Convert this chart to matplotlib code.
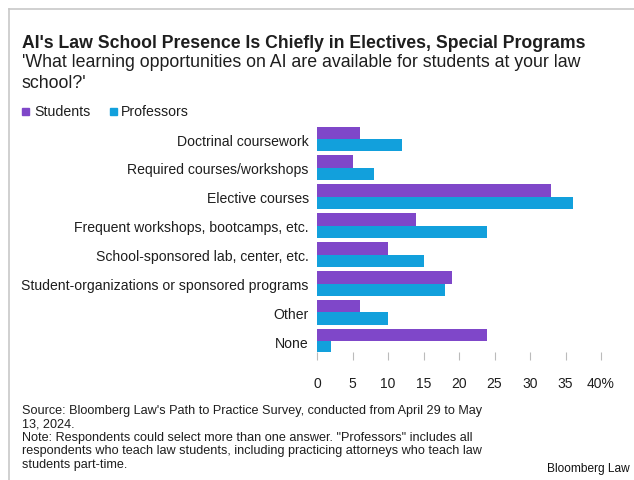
import matplotlib
matplotlib.use("Agg")
import matplotlib.pyplot as plt
from matplotlib.lines import Line2D
from matplotlib.patches import Rectangle
import numpy as np

plt.rcParams['font.family'] = ['Liberation Sans', 'DejaVu Sans']

categories = [
    "Doctrinal coursework",
    "Required courses/workshops",
    "Elective courses",
    "Frequent workshops, bootcamps, etc.",
    "School-sponsored lab, center, etc.",
    "Student-organizations or sponsored programs",
    "Other",
    "None",
]
students = [6, 5, 33, 14, 10, 19, 6, 24]
professors = [12, 8, 36, 24, 15, 18, 10, 2]
series_names = ["Students", "Professors"]
tick_values = [0, 5, 10, 15, 20, 25, 30, 35, 40]
tick_labels = ["0", "5", "10", "15", "20", "25", "30", "35", "40%"]

PURPLE = "#7f47c9"
BLUE = "#12a0dc"
TEXT = "#1e1e1e"

W, H = 634, 481
fig = plt.figure(figsize=(W / 100, H / 100), dpi=100)
fig.patch.set_facecolor("white")

def fx(px):
    return px / W

def fy(py):
    return 1 - py / H

# frame lines along the top and left edges
fig.add_artist(Line2D([fx(9), 1], [fy(10), fy(10)], color="#c8c8c8", lw=1.2))
fig.add_artist(Line2D([fx(9), fx(9)], [fy(10), 0], color="#c8c8c8", lw=1.2))

# title block
fig.text(fx(22), fy(48), "AI's Law School Presence Is Chiefly in Electives, Special Programs",
         fontsize=12.7, fontweight="bold", color=TEXT, va="baseline", ha="left")
fig.text(fx(22), fy(67), "'What learning opportunities on AI are available for students at your law",
         fontsize=12.8, color=TEXT, va="baseline", ha="left")
fig.text(fx(22), fy(88), "school?'",
         fontsize=12.8, color=TEXT, va="baseline", ha="left")

# legend
fig.add_artist(Rectangle((fx(22), fy(115.5)), fx(7), 7 / H, color=PURPLE, transform=fig.transFigure))
fig.text(fx(34), fy(116), series_names[0], fontsize=10.2, color=TEXT, va="baseline")
fig.add_artist(Rectangle((fx(110), fy(115.5)), fx(7), 7 / H, color=BLUE, transform=fig.transFigure))
fig.text(fx(121), fy(116), series_names[1], fontsize=10.2, color=TEXT, va="baseline")

# chart axes
left_px, right_px = 317, 601
top_px, bottom_px = 125, 353
ax = fig.add_axes([fx(left_px), fy(bottom_px), fx(right_px - left_px), (bottom_px - top_px) / H])

y = np.arange(len(categories))
bh = 0.43
ax.barh(y - bh / 2, students, height=bh, color=PURPLE, label=series_names[0])
ax.barh(y + bh / 2, professors, height=bh, color=BLUE, label=series_names[1])

ax.set_xlim(0, 40)
ax.set_ylim(7.37, -0.52)
ax.set_yticks(y)
ax.set_yticklabels(categories, fontsize=10.1, color=TEXT)
ax.tick_params(axis="y", length=0, pad=6)
ax.set_xticks(tick_values)
ax.set_xticklabels(tick_labels, fontsize=10, color=TEXT)
ax.tick_params(axis="x", direction="out", length=6, width=0.8, color="#bbbbbb", pad=11)
for s in ax.spines.values():
    s.set_visible(False)
ax.set_facecolor("none")

# notes
notes = [
    "Source: Bloomberg Law's Path to Practice Survey, conducted from April 29 to May",
    "13, 2024.",
    "Note: Respondents could select more than one answer. \"Professors\" includes all",
    "respondents who teach law students, including practicing attorneys who teach law",
    "students part-time.",
]
for i, line in enumerate(notes):
    fig.text(fx(22), fy(414 + i * 13.5), line, fontsize=9.1, color=TEXT, va="baseline")

fig.text(fx(630), fy(472), "Bloomberg Law", fontsize=8.6, color="#111111", va="baseline", ha="right")

fig.savefig("out.png", dpi=100)
